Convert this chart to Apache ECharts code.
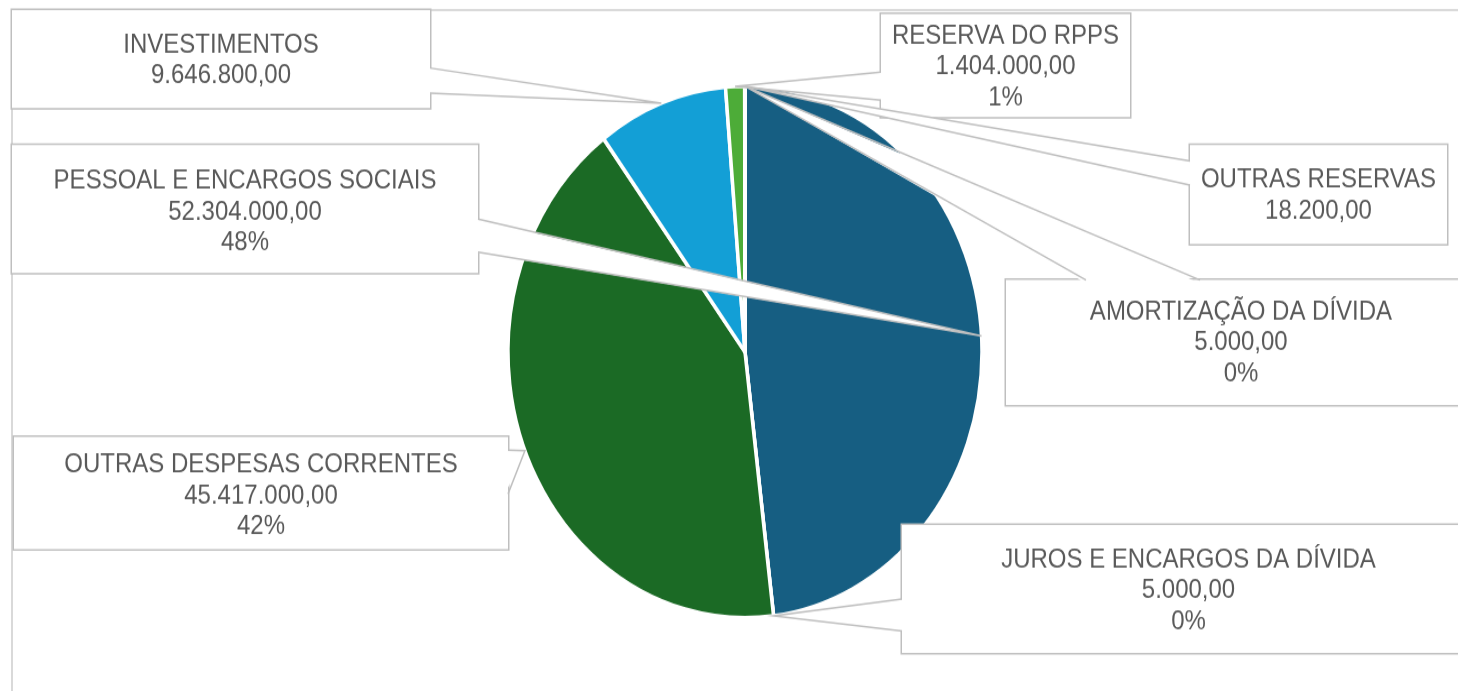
<!DOCTYPE html>
<html>
<head>
<meta charset="utf-8">
<script src="https://cdn.jsdelivr.net/npm/echarts@6/dist/echarts.min.js"></script>
<style>
  html, body { margin: 0; padding: 0; background: #fff; width: 1458px; height: 691px; overflow: hidden; }
  /* the reference picture is stretched vertically, so the chart is too */
  #chart { width: 1458px; height: 616px; transform: scaleY(1.12175); transform-origin: 0 0; }
</style>
</head>
<body>
<div id="chart"></div>
<script>
// data, clockwise from 12 o'clock
const categories = [
  'PESSOAL E ENCARGOS SOCIAIS',
  'JUROS E ENCARGOS DA DÍVIDA',
  'OUTRAS DESPESAS CORRENTES',
  'INVESTIMENTOS',
  'RESERVA DO RPPS',
  'OUTRAS RESERVAS',
  'AMORTIZAÇÃO DA DÍVIDA'
];
const values = [52304000, 5000, 45417000, 9646800, 1404000, 18200, 5000];
const showPercent = [true, true, true, false, true, false, true];
const colors = ['#165e82', '#0f4f6e', '#1b6a25', '#139fd6', '#4dac38', '#7f7f7f', '#2b7bb9'];

const K = 691 / 616; // vertical stretch of the page

// label boxes in page pixels: left, top, right, bottom, centre of first text line
const labelBoxes = [
  [12, 145, 478, 273, 181],
  [902, 525, 1475, 653, 560],
  [14, 437, 508, 549, 465],
  [12, 10, 430, 108, 45],
  [881, 14, 1130, 117, 36],
  [1190, 145, 1447, 244, 180],
  [1006, 280, 1476, 405, 312]
];
// where each callout pointer leaves its box (page pixels)
const calloutBase = [
  [[478, 219], [478, 252]],
  [[902, 599], [902, 631]],
  [[508, 450], [508, 494]],
  [[430, 68], [430, 93]],
  [[881, 72], [881, 100]],
  [[1190, 161], [1190, 185]],
  [[1086, 280], [1200, 280]]
];

const LINE_H = 31 / K;
const BORDER = '#bfbfbf';

function brl(v) {
  const parts = v.toFixed(2).split('.');
  return parts[0].replace(/\B(?=(\d{3})+(?!\d))/g, '.') + ',' + parts[1];
}

const chart = echarts.init(document.getElementById('chart'));

const pieData = categories.map((name, i) => {
  const b = labelBoxes[i];
  const lines = showPercent[i] ? 3 : 2;
  const top = (b[4] - b[1]) / K - LINE_H / 2;
  const bottom = (b[3] - b[1]) / K - top - lines * LINE_H;
  return {
    name: name,
    value: values[i],
    itemStyle: { color: colors[i] },
    label: { width: b[2] - b[0], padding: [top, 0, bottom, 0] }
  };
});

const frame = {
  type: 'rect',
  z: 0,
  shape: { x: 12, y: 10 / K, width: 2000, height: 2000 },
  style: { fill: 'none', stroke: '#d9d9d9', lineWidth: 2 }
};

chart.setOption({
  animation: false,
  backgroundColor: '#fff',
  graphic: [frame],
  series: [{
    type: 'pie',
    center: [745, 352 / K],
    radius: 237,
    startAngle: 90,
    clockwise: true,
    avoidLabelOverlap: false,
    itemStyle: { borderColor: '#fff', borderWidth: 3.5 },
    label: {
      show: true,
      position: 'outside',
      overflow: 'none',
      color: '#595959',
      fontFamily: '"Liberation Sans", Arial, sans-serif',
      fontSize: 24,
      lineHeight: LINE_H,
      align: 'center',
      backgroundColor: '#fff',
      borderColor: BORDER,
      borderWidth: 1.5,
      formatter: (p) => {
        const lines = [p.name, brl(p.value)];
        if (showPercent[p.dataIndex]) lines.push(Math.round(p.percent) + '%');
        return lines.join('\n');
      }
    },
    labelLine: { show: false },
    labelLayout: (p) => {
      const b = labelBoxes[p.dataIndex];
      return { x: (b[0] + b[2]) / 2, y: b[1] / K, align: 'center', verticalAlign: 'top' };
    },
    emphasis: { disabled: true },
    data: pieData
  }]
});

// callout pointers: from each box to the middle of its slice's outer edge
const seriesData = chart.getModel().getSeriesByIndex(0).getData();
const pointers = [];
calloutBase.forEach((base, i) => {
  const lay = seriesData.getItemLayout(i);
  const mid = (lay.startAngle + lay.endAngle) / 2;
  const tip = [lay.cx + lay.r * Math.cos(mid), lay.cy + lay.r * Math.sin(mid)];
  const a = [base[0][0], base[0][1] / K];
  const c = [base[1][0], base[1][1] / K];
  const b = labelBoxes[i];
  // nudge the fill a little into the box so it hides the border there
  const dx = Math.abs(a[0] - c[0]) < 1 ? ((b[0] + b[2]) / 2 > a[0] ? 3 : -3) : 0;
  const dy = dx === 0 ? 3 : 0;
  pointers.push({
    type: 'polygon',
    z: 50,
    shape: { points: [[a[0] + dx, a[1] + dy], tip, [c[0] + dx, c[1] + dy]] },
    style: { fill: '#fff', stroke: 'none' }
  });
  pointers.push({
    type: 'polyline',
    z: 51,
    shape: { points: [a, tip, c] },
    style: { fill: 'none', stroke: BORDER, lineWidth: 1.5 }
  });
});

chart.setOption({ graphic: [frame].concat(pointers) }, { replaceMerge: ['graphic'] });
</script>
</body>
</html>
